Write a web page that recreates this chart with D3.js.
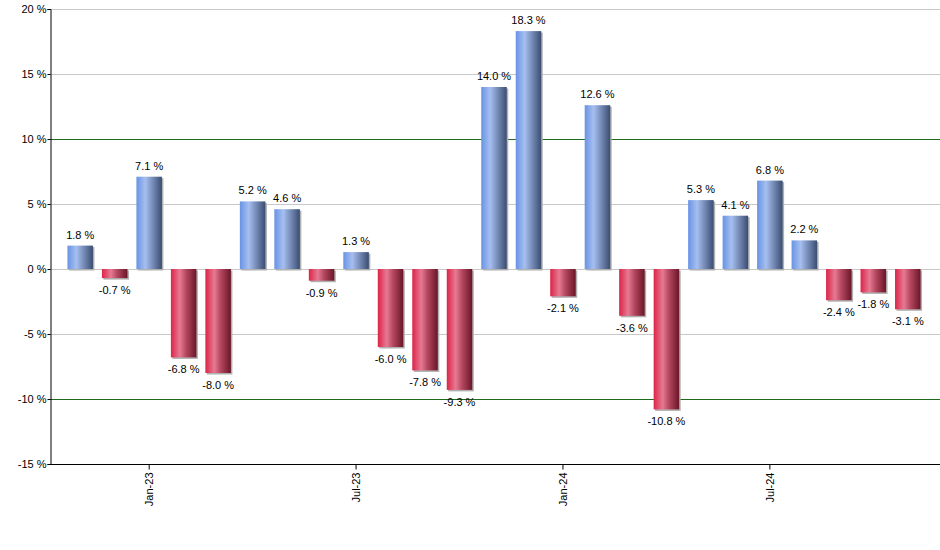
<!DOCTYPE html>
<html><head><meta charset="utf-8">
<script src="https://cdn.jsdelivr.net/npm/d3@7/dist/d3.min.js"></script>
<style>body{margin:0;background:#fff}svg{display:block;font-family:"Liberation Sans",Arial,sans-serif}</style>
</head><body>
<svg id="c" width="940" height="550"></svg>
<script>
const months = ["Nov-22","Dec-22","Jan-23","Feb-23","Mar-23","Apr-23","May-23","Jun-23","Jul-23","Aug-23","Sep-23","Oct-23","Nov-23","Dec-23","Jan-24","Feb-24","Mar-24","Apr-24","May-24","Jun-24","Jul-24","Aug-24","Sep-24","Oct-24","Nov-24"];
const values = [1.8,-0.7,7.1,-6.8,-8.0,5.2,4.6,-0.9,1.3,-6.0,-7.8,-9.3,14.0,18.3,-2.1,12.6,-3.6,-10.8,5.3,4.1,6.8,2.2,-2.4,-1.8,-3.1];
const yTicks = [-15,-10,-5,0,5,10,15,20];
const xTickLabels = ["Jan-23","Jul-23","Jan-24","Jul-24"];

const svg = d3.select("#c");
const mLeft = 50, mRight = 940, mTop = 9, mBottom = 464;
const x = d3.scaleBand().domain(months).range([64, 924]).paddingInner(0.26).paddingOuter(0.1);
const y = d3.scaleLinear().domain([-15, 20]).range([mBottom, mTop]);

const defs = svg.append("defs");
function grad(id, stops){
  const g = defs.append("linearGradient").attr("id", id).attr("x1","0").attr("x2","1").attr("y1","0").attr("y2","0");
  stops.forEach(s => g.append("stop").attr("offset", s[0]).attr("stop-color", s[1]));
}
grad("gb", [[0,"#6893e4"],[0.35,"#a6bff0"],[0.6,"#7d93bf"],[1,"#3a4d72"]]);
grad("gr", [[0,"#dc2448"],[0.35,"#e67a92"],[0.6,"#b4475f"],[1,"#6a1628"]]);

// gridlines
svg.append("g").selectAll("line").data(yTicks.filter(t => t !== -15)).join("line")
  .attr("x1", mLeft).attr("x2", mRight)
  .attr("y1", d => Math.round(y(d)) + 0.5).attr("y2", d => Math.round(y(d)) + 0.5)
  .attr("stroke", d => Math.abs(d) === 10 ? "#1e6b1e" : "#c8c8c8").attr("stroke-width", 1);

// y axis
const yAxis = d3.axisLeft(y).tickValues(yTicks).tickSize(3).tickFormat(d => d + " %");
const gy = svg.append("g").attr("transform", `translate(${mLeft + 0.5},0)`).call(yAxis);
gy.select(".domain").attr("stroke", "#000");
gy.selectAll(".tick line").attr("stroke", "#000");
gy.selectAll(".tick text").attr("font-size", 11).attr("fill", "#000").attr("font-family", "Liberation Sans, Arial, sans-serif").attr("x", -4);

// x axis
const xAxis = d3.axisBottom(x).tickValues(xTickLabels).tickSize(5).tickSizeOuter(0);
const gx = svg.append("g").attr("transform", `translate(0,${mBottom + 0.5})`).call(xAxis);
gx.select(".domain").attr("d", `M${mLeft},0H${mRight}`).attr("stroke", "#000");
gx.selectAll(".tick line").attr("stroke", "#000");
gx.selectAll(".tick text").attr("font-size", 11).attr("fill", "#000").attr("font-family", "Liberation Sans, Arial, sans-serif")
  .attr("transform", "rotate(-90)").attr("text-anchor", "end").attr("x", -8).attr("y", 0).attr("dy", "0.35em");

// bars
const bw = x.bandwidth();
const bars = svg.append("g");
bars.selectAll("rect.s").data(values).join("rect").attr("class","s")
  .attr("x", (d,i) => x(months[i]) + 1.5)
  .attr("y", d => Math.min(y(d), y(0)) + 1.5)
  .attr("width", bw)
  .attr("height", d => Math.abs(y(d) - y(0)))
  .attr("fill", "#b0b0b0");
bars.selectAll("rect.b").data(values).join("rect").attr("class","b")
  .attr("x", (d,i) => x(months[i]))
  .attr("y", d => Math.min(y(d), y(0)))
  .attr("width", bw)
  .attr("height", d => Math.abs(y(d) - y(0)))
  .attr("fill", d => d >= 0 ? "url(#gb)" : "url(#gr)");

// labels
svg.append("g").selectAll("text").data(values).join("text")
  .attr("x", (d,i) => x(months[i]) + bw / 2)
  .attr("y", d => d >= 0 ? y(d) - 7 : y(d) + 16)
  .attr("text-anchor", "middle").attr("font-size", 11).attr("fill", "#000")
  .text(d => d.toFixed(1) + " %");
</script>
</body></html>
